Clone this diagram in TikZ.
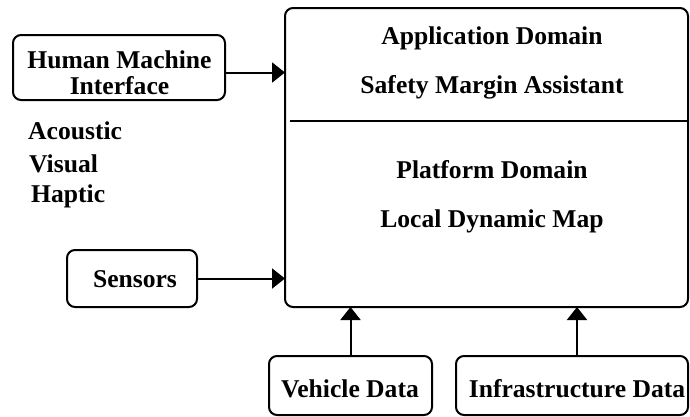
\documentclass[tikz,border=0pt]{standalone}
\usepackage{fontspec}
\setmainfont{Liberation Serif}
\usetikzlibrary{arrows.meta}
\begin{document}
\begin{tikzpicture}[x=1pt,y=-1pt,
  box/.style={draw, line width=2pt, rounded corners=8pt, inner sep=0pt, outer sep=0pt},
  txt/.style={font=\fontsize{25.6}{23}\selectfont\bfseries, inner sep=0pt, anchor=base},
  arr/.style={line width=2pt, -{Triangle[length=13pt,width=20pt]}}]
\useasboundingbox (0,0) rectangle (690,416);
% boxes
\node[box, minimum width=403pt, minimum height=299pt] (main) at (486.5,157.5) {};
\node[box, minimum width=212pt, minimum height=65pt] (hmi) at (119,67.5) {};
\node[box, minimum width=130pt, minimum height=57pt] (sens) at (132,278.5) {};
\node[box, minimum width=163pt, minimum height=59pt] (veh) at (350.5,385.5) {};
\node[box, minimum width=232pt, minimum height=59pt] (infra) at (572,385.5) {};
% divider
\coordinate (d1) at (290,121);
\draw[line width=2pt] (d1) -- (d1 -| main.east);
% texts
\node[txt] (t1) at (492,44) {Application Domain};
\node[txt] (t2) at (492,93) {Safety Margin Assistant};
\node[txt] (t3) at (492,178) {Platform Domain};
\node[txt] (t4) at (492,227) {Local Dynamic Map};
\node[txt, anchor=center, align=center, font=\fontsize{25.6}{26}\selectfont\bfseries] (h1) at (119.5,72.6) {Human Machine\\Interface};
\node[txt, anchor=base west] (a1) at (28,139) {Acoustic};
\node[txt, anchor=base west] (a2) at (29,172) {Visual};
\node[txt, anchor=base west] (a3) at (31,202) {Haptic};
\node[txt] (s1) at (135,287) {Sensors};
\node[txt] (v1) at (350,397) {Vehicle Data};
\node[txt] (i1) at (577,397) {Infrastructure Data};
% connectors
\coordinate (ha) at (0,72.5);
\draw[arr] (hmi.east |- ha) -- (main.west |- ha);
\draw[arr] (sens.east) -- (main.west |- sens.east);
\draw[arr] (veh.north) -- (main.south -| veh.north);
\coordinate (ia) at (577,0);
\draw[arr] (infra.north -| ia) -- (main.south -| ia);
\end{tikzpicture}
\end{document}
